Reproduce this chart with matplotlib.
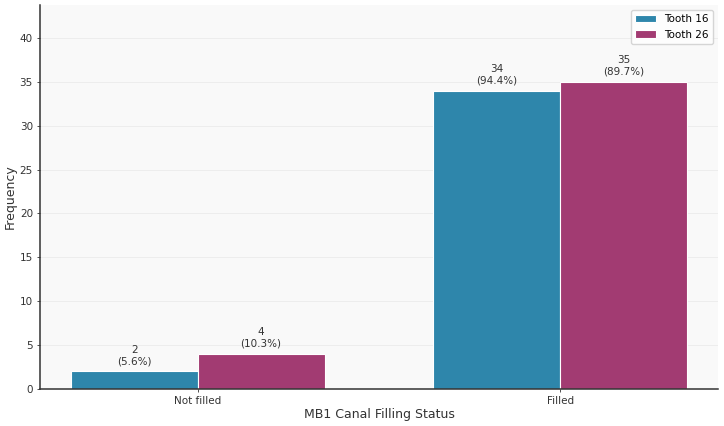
import numpy as np
import matplotlib
matplotlib.use("Agg")
import matplotlib.pyplot as plt

categories = ["Not filled", "Filled"]
tooth16 = [2, 34]
tooth26 = [4, 35]
pct16 = [5.6, 94.4]
pct26 = [10.3, 89.7]

fig, ax = plt.subplots(figsize=(7.24, 4.26), dpi=100)
ax.set_facecolor("#f9f9f9")

x = np.arange(len(categories))
w = 0.35
b1 = ax.bar(x - w / 2, tooth16, w, label="Tooth 16", color="#2E86AB", edgecolor="white", linewidth=0.8)
b2 = ax.bar(x + w / 2, tooth26, w, label="Tooth 26", color="#A23B72", edgecolor="white", linewidth=0.8)

for bars, vals, pcts in [(b1, tooth16, pct16), (b2, tooth26, pct26)]:
    for b, v, p in zip(bars, vals, pcts):
        ax.text(b.get_x() + b.get_width() / 2, v + 0.6, f"{v}\n({p}%)",
                ha="center", va="bottom", fontsize=7.5, color="#333333")

ax.set_xticks(x)
ax.set_xticklabels(categories)
ax.tick_params(labelsize=7.5, colors="#333333", width=0.6, length=2.5, pad=2.5)
ax.set_xlabel("MB1 Canal Filling Status", fontsize=9, color="#333333", labelpad=1.5)
ax.set_ylabel("Frequency", fontsize=9, color="#333333", labelpad=2)
ax.set_ylim(0, max(tooth26 + tooth16) * 1.25)
ax.yaxis.grid(True, color="#ebebeb", linewidth=0.6)
ax.set_axisbelow(True)
ax.spines["top"].set_visible(False)
ax.spines["right"].set_visible(False)
ax.spines["left"].set_color("#333333")
ax.spines["bottom"].set_color("#333333")
ax.spines["left"].set_linewidth(1.1)
ax.spines["bottom"].set_linewidth(1.1)
ax.legend(fontsize=7.5, loc="upper right")

fig.subplots_adjust(left=0.055, right=0.992, bottom=0.087, top=0.988)
fig.savefig("out.png", dpi=100)
